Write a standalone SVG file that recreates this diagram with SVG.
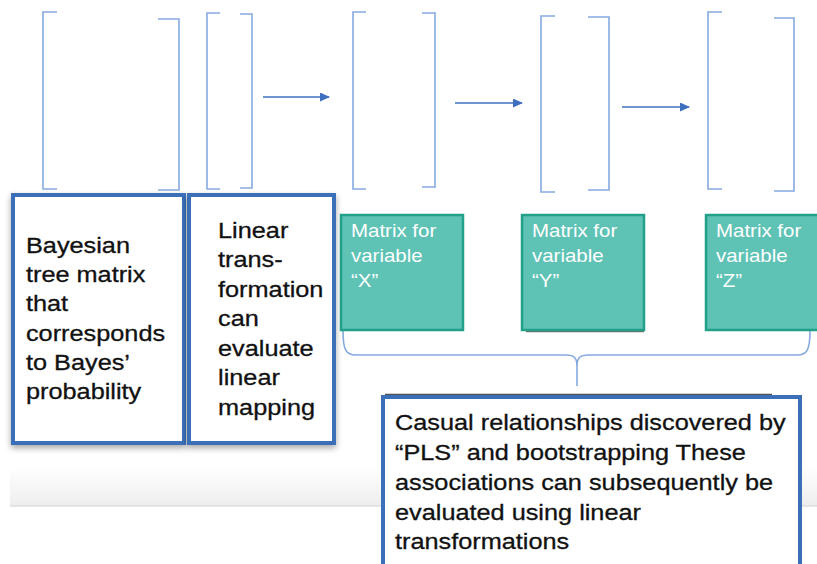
<svg xmlns="http://www.w3.org/2000/svg" width="817" height="564" viewBox="0 0 817 564">
<style>
.br{fill:none;stroke:#86a9df;stroke-width:1.6}
.arr{stroke:#3f70c0;stroke-width:1.6;fill:none}
.box{fill:#fff;stroke:#3b70b9;stroke-width:4}
.teal{fill:#5ec2b5;stroke:#22a08a;stroke-width:2.5}
.t{font-family:"Liberation Sans",Arial,Helvetica,sans-serif;fill:#111;stroke:#111;stroke-width:0.3}
.tw{font-family:"Liberation Sans",Arial,Helvetica,sans-serif;fill:#fff;font-size:17.8px}
</style>
<defs>
<marker id="ah" markerWidth="10" markerHeight="10" refX="9" refY="4.5" orient="auto" markerUnits="userSpaceOnUse">
<path d="M0,0 L10,4.5 L0,9 z" fill="#3f70c0"/>
</marker>
<filter id="sh" x="-10%" y="-10%" width="120%" height="125%">
<feDropShadow dx="0" dy="3" stdDeviation="3" flood-color="#000" flood-opacity="0.35"/>
</filter>
<linearGradient id="band" x1="0" y1="0" x2="0" y2="1">
<stop offset="0" stop-color="#ffffff"/>
<stop offset="1" stop-color="#ededed"/>
</linearGradient>
</defs>
<rect width="817" height="564" fill="#fff"/>
<rect x="10" y="468" width="807" height="38" fill="url(#band)"/>
<line x1="10" y1="506" x2="817" y2="506" stroke="#dcdcdc" stroke-width="1.5"/>

<g id="brackets">
<path class="br" d="M57,12 L43,12 L43,189 L57,189"/>
<path class="br" d="M158,19 L179,19 L179,190 L158,190"/>
<path class="br" d="M220,13 L207,13 L207,189 L220,189"/>
<path class="br" d="M240,14 L252,14 L252,188 L240,188"/>
<path class="br" d="M366,12 L353,12 L353,189 L366,189"/>
<path class="br" d="M422,13 L435,13 L435,187 L422,187"/>
<path class="br" d="M555,16 L541,16 L541,192 L555,192"/>
<path class="br" d="M588,17 L609,17 L609,190 L588,190"/>
<path class="br" d="M722,12 L708,12 L708,189 L722,189"/>
<path class="br" d="M774,18 L794,18 L794,191 L774,191"/>
</g>

<g id="connectors">
<line class="arr" x1="263" y1="97" x2="329" y2="97" marker-end="url(#ah)"/>
<line class="arr" x1="455" y1="103" x2="522" y2="103" marker-end="url(#ah)"/>
<line class="arr" x1="622" y1="107" x2="689" y2="107" marker-end="url(#ah)"/>
<path class="br" d="M343,331 C343,350 346,355 356,355 L566,355 C574,355 577,358 577,366 L577,386 M577,366 C577,358 580,355 588,355 L797,355 C807,355 810,350 810,331"/>
</g>

<g id="bayes">
<rect class="box" x="13" y="195" width="171" height="248" filter="url(#sh)"/>
<g transform="scale(1.15,1)" class="t" font-size="22">
<text x="22.6" y="253">Bayesian</text>
<text x="22.6" y="282">tree matrix</text>
<text x="22.6" y="311.5">that</text>
<text x="22.6" y="341">corresponds</text>
<text x="22.6" y="370">to Bayes’</text>
<text x="22.6" y="399">probability</text>
</g>
</g>

<g id="linear">
<rect class="box" x="189" y="195" width="145" height="248" filter="url(#sh)"/>
<g transform="scale(1.15,1)" class="t" font-size="22">
<text x="189.6" y="238">Linear</text>
<text x="189.6" y="267.5">trans-</text>
<text x="189.6" y="297">formation</text>
<text x="189.6" y="326.5">can</text>
<text x="189.6" y="356">evaluate</text>
<text x="189.6" y="385.5">linear</text>
<text x="189.6" y="415">mapping</text>
</g>
</g>

<g id="matrixX">
<rect class="teal" x="341" y="215" width="122" height="115"/>
<g transform="scale(1.15,1)" class="tw">
<text x="305.2" y="237">Matrix for</text>
<text x="305.2" y="262">variable</text>
<text x="305.2" y="287">“X”</text>
</g>
</g>

<g id="matrixY">
<line x1="526" y1="331.5" x2="644" y2="331.5" stroke="#333" stroke-width="1.5" opacity="0.7"/>
<rect class="teal" x="522" y="215" width="122" height="115"/>
<g transform="scale(1.15,1)" class="tw">
<text x="462.6" y="237">Matrix for</text>
<text x="462.6" y="262">variable</text>
<text x="462.6" y="287">“Y”</text>
</g>
</g>

<g id="matrixZ">
<rect class="teal" x="706" y="215" width="122" height="115"/>
<g transform="scale(1.15,1)" class="tw">
<text x="622.6" y="237">Matrix for</text>
<text x="622.6" y="262">variable</text>
<text x="622.6" y="287">“Z”</text>
</g>
</g>

<g id="pls">
<line x1="385" y1="394.5" x2="772" y2="394.5" stroke="#333" stroke-width="1.5" opacity="0.85"/>
<rect class="box" x="383" y="397" width="417" height="185"/>
<g transform="scale(1.15,1)" class="t" font-size="22">
<text x="343.5" y="430">Casual relationships discovered by</text>
<text x="343.5" y="460.5">“PLS” and bootstrapping These</text>
<text x="343.5" y="490.5">associations can subsequently be</text>
<text x="343.5" y="520">evaluated using linear</text>
<text x="343.5" y="549">transformations</text>
</g>
</g>
</svg>
